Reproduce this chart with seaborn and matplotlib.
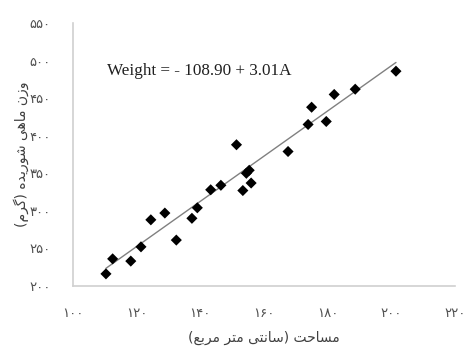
import numpy as np
import pandas as pd
import matplotlib
matplotlib.use("Agg")
import matplotlib.pyplot as plt
from matplotlib.ticker import FuncFormatter
import seaborn as sns

# --- data ---
area = [110.4, 112.5, 118.2, 121.4, 124.5, 128.9, 132.5, 137.4, 139.1, 143.3,
        146.5, 151.4, 153.4, 154.5, 155.4, 156.0, 167.6, 173.9, 175.0, 179.6,
        182.1, 188.7, 201.5]
weight = [216, 236, 233, 252, 288, 297, 261, 290, 304, 328,
          334, 388, 327, 350, 354, 337, 379, 415, 438, 419,
          455, 462, 486]
intercept = -108.90
slope = 3.01
x_ticks = [100, 120, 140, 160, 180, 200, 220]
y_ticks = [200, 250, 300, 350, 400, 450, 500, 550]
x_label = "مساحت (سانتی متر مربع)"
y_label = "وزن ماهی شوریده (گرم)"
equation = "Weight = - 108.90 + 3.01A"

# --- minimal Persian shaping (matplotlib has no bidi/joining) ---
FORMS = {  # isolated, final, initial, medial
    "ا": ("\uFE8D", "\uFE8E", None, None),
    "ب": ("\uFE8F", "\uFE90", "\uFE91", "\uFE92"),
    "ت": ("\uFE95", "\uFE96", "\uFE97", "\uFE98"),
    "ح": ("\uFEA1", "\uFEA2", "\uFEA3", "\uFEA4"),
    "د": ("\uFEA9", "\uFEAA", None, None),
    "ر": ("\uFEAD", "\uFEAE", None, None),
    "ز": ("\uFEAF", "\uFEB0", None, None),
    "س": ("\uFEB1", "\uFEB2", "\uFEB3", "\uFEB4"),
    "ش": ("\uFEB5", "\uFEB6", "\uFEB7", "\uFEB8"),
    "ع": ("\uFEC9", "\uFECA", "\uFECB", "\uFECC"),
    "م": ("\uFEE1", "\uFEE2", "\uFEE3", "\uFEE4"),
    "ن": ("\uFEE5", "\uFEE6", "\uFEE7", "\uFEE8"),
    "ه": ("\uFEE9", "\uFEEA", "\uFEEB", "\uFEEC"),
    "و": ("\uFEED", "\uFEEE", None, None),
    "ی": ("\uFEEF", "\uFEF0", "\uFEF3", "\uFEF4"),
    "گ": ("\uFB92", "\uFB93", "\uFB94", "\uFB95"),
}


def dual(c):
    return c in FORMS and FORMS[c][2] is not None


def shape(text):
    out = []
    for i, c in enumerate(text):
        if c not in FORMS:
            out.append({"(": ")", ")": "("}.get(c, c))
            continue
        prev = text[i - 1] if i > 0 else ""
        nxt = text[i + 1] if i + 1 < len(text) else ""
        jp = dual(prev)
        jn = dual(c) and nxt in FORMS
        f = FORMS[c]
        out.append(f[3] if jp and jn else f[1] if jp else f[2] if jn else f[0])
    return "".join(reversed(out))


def fa_digits(v, pos=None):
    return str(int(v)).translate(str.maketrans("0123456789", "۰۱۲۳۴۵۶۷۸۹"))


df = pd.DataFrame({"area": area, "weight": weight})
fit = pd.DataFrame({"area": [min(area), max(area)]})
fit["weight"] = intercept + slope * fit["area"]

sns.set_style("white")
plt.rcParams["font.family"] = ["DejaVu Sans"]

fig = plt.figure(figsize=(4.67, 3.56), dpi=100)
ax = fig.add_axes([0.156, 0.197, 0.818, 0.738])

sns.lineplot(data=fit, x="area", y="weight", ax=ax, color="#808080", linewidth=1)
sns.scatterplot(data=df, x="area", y="weight", ax=ax, marker="D", color="black",
                s=32, edgecolor="none", zorder=3)

ax.set_xlim(100, 220)
ax.set_ylim(200, 550)
ax.set_xticks(x_ticks)
ax.set_yticks(y_ticks)
ax.xaxis.set_major_formatter(FuncFormatter(fa_digits))
ax.yaxis.set_major_formatter(FuncFormatter(fa_digits))
ax.tick_params(length=0, labelsize=9.5, colors="#505050")
ax.tick_params(axis="x", pad=15)
ax.tick_params(axis="y", pad=16)

for side in ["top", "right"]:
    ax.spines[side].set_visible(False)
for side in ["left", "bottom"]:
    ax.spines[side].set_color("#d0d0d0")
    ax.spines[side].set_linewidth(1.2)

ax.set_xlabel(shape(x_label), fontsize=10, color="#404040", labelpad=8)
ax.set_ylabel(shape(y_label), fontsize=10, color="#404040", labelpad=0)

ax.text(110.6, 486, equation, family="Liberation Serif", fontsize=12.3,
        color="#202020", va="center", ha="left")

fig.savefig("out.png", dpi=100)
